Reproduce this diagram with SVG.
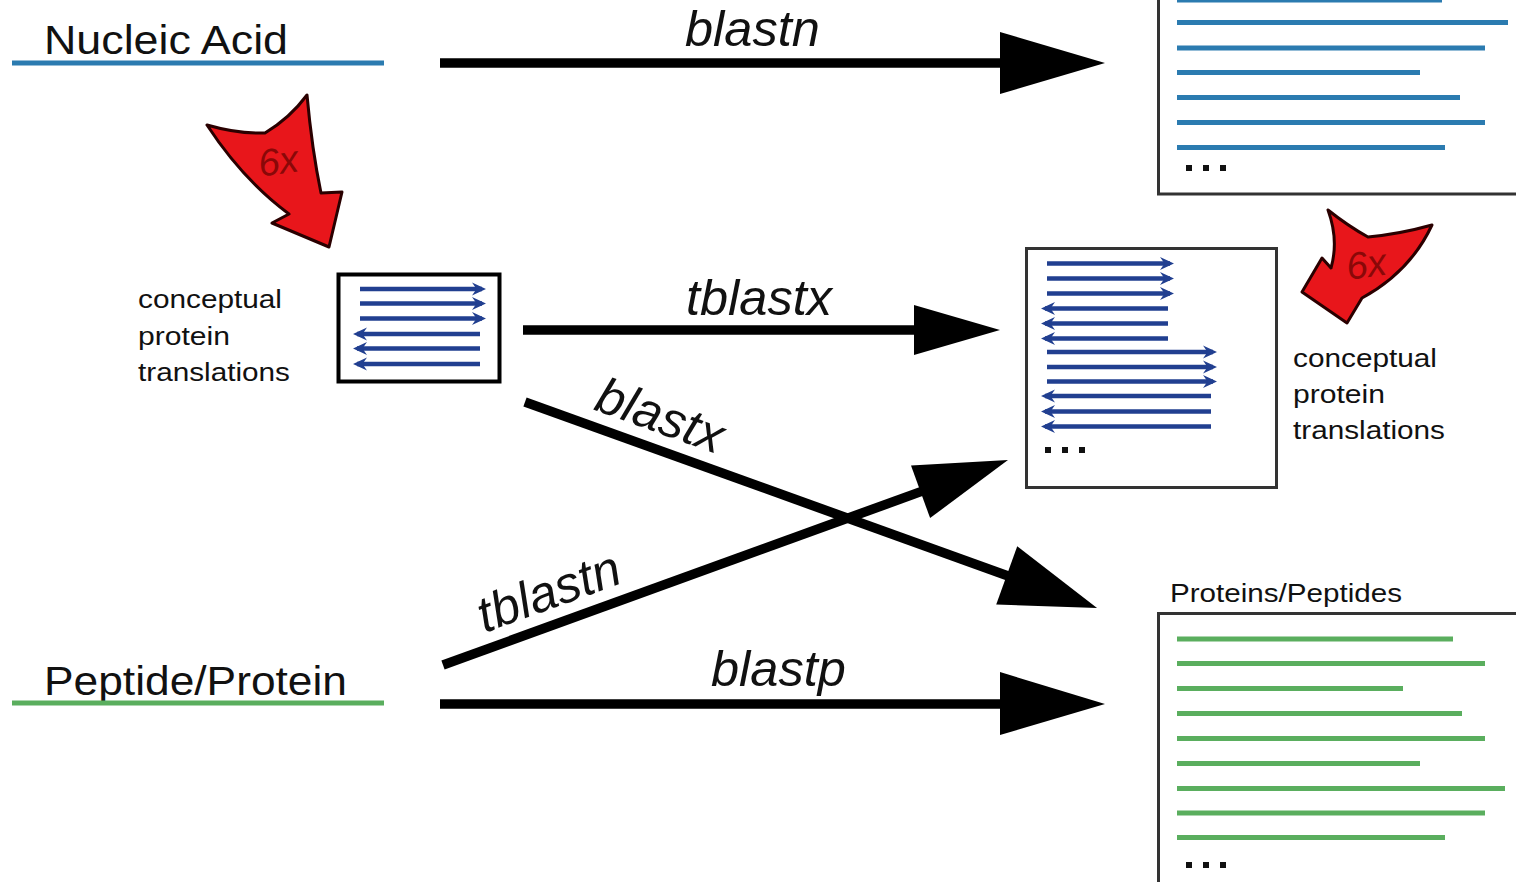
<svg xmlns="http://www.w3.org/2000/svg" width="1516" height="882" viewBox="0 0 1516 882">
  <style>
    .lbl { font-family: "Liberation Sans", Arial, sans-serif; fill: #111; }
    .big { font-size: 40px; }
    .prog { font-size: 50.5px; font-style: italic; }
    .small { font-size: 25px; }
    .six { font-family: "Liberation Sans", Arial, sans-serif; font-size: 38px; font-style: italic; fill: #8a0808; }
    .shaft { stroke: #000; stroke-width: 9.5; fill: none; }
    .head { fill: #000; }
    .frame { fill: #fff; stroke: #333; stroke-width: 3; }
    .nuc { stroke: #2b7bb0; stroke-width: 5; }
    .pep { stroke: #5aae5e; stroke-width: 5; }
    .frm { stroke: #213f90; stroke-width: 4.5; marker-end: url(#chev); }
    .dot { fill: #111; }
    .bent { fill: #e8161b; stroke: #2a0000; stroke-width: 3; stroke-linejoin: round; }
  </style>
  <defs>
    <marker id="chev" viewBox="0 0 14 14" refX="10" refY="7" markerWidth="14" markerHeight="14" markerUnits="userSpaceOnUse" orient="auto">
      <path d="M0,0.5 L14,7 L0,13.5 L4.5,7 Z" fill="#213f90"/>
    </marker>
  </defs>
  <rect width="1516" height="882" fill="#fff"/>

  <!-- source sequences -->
  <g id="nucleic-acid">
    <text class="lbl big" x="44" y="54" textLength="244" lengthAdjust="spacingAndGlyphs">Nucleic Acid</text>
    <line class="nuc" x1="12" y1="63" x2="384" y2="63"/>
  </g>
  <g id="peptide-protein">
    <text class="lbl big" x="44" y="695" textLength="303" lengthAdjust="spacingAndGlyphs">Peptide/Protein</text>
    <line class="pep" x1="12" y1="703" x2="384" y2="703"/>
  </g>

  <!-- six-frame translation of the query -->
  <g id="query-translate">
    <path class="bent" d="M207,125 Q238,134 265,133 Q290,118 307,95 Q312,150 321,193 L342,192 L329,247 L272,223 L289,214 Q243,180 207,125 Z"/>
    <text class="six" x="258" y="174" transform="rotate(-8 278 160)">6x</text>
  </g>
  <g id="query-frames">
    <text class="lbl small" x="138" y="308" textLength="144" lengthAdjust="spacingAndGlyphs">conceptual</text>
    <text class="lbl small" x="138" y="345" textLength="92" lengthAdjust="spacingAndGlyphs">protein</text>
    <text class="lbl small" x="138" y="381" textLength="152" lengthAdjust="spacingAndGlyphs">translations</text>
    <rect x="338.5" y="274.5" width="161" height="107" fill="#fff" stroke="#000" stroke-width="4"/>
    <line class="frm" x1="360" y1="289" x2="482" y2="289"/>
    <line class="frm" x1="360" y1="303.5" x2="482" y2="303.5"/>
    <line class="frm" x1="360" y1="318.5" x2="482" y2="318.5"/>
    <line class="frm" x1="480" y1="334" x2="357" y2="334"/>
    <line class="frm" x1="480" y1="348.5" x2="357" y2="348.5"/>
    <line class="frm" x1="480" y1="364" x2="357" y2="364"/>
  </g>

  <!-- nucleotide database -->
  <g id="nucleotide-db">
    <rect class="frame" x="1158.5" y="-10" width="400" height="204"/>
    <line class="nuc" x1="1177" y1="0" x2="1442" y2="0"/>
    <line class="nuc" x1="1177" y1="22.5" x2="1508" y2="22.5"/>
    <line class="nuc" x1="1177" y1="48" x2="1485" y2="48"/>
    <line class="nuc" x1="1177" y1="72.5" x2="1420" y2="72.5"/>
    <line class="nuc" x1="1177" y1="97.5" x2="1460" y2="97.5"/>
    <line class="nuc" x1="1177" y1="122.5" x2="1485" y2="122.5"/>
    <line class="nuc" x1="1177" y1="147.5" x2="1445" y2="147.5"/>
    <rect class="dot" x="1186" y="165" width="6" height="6"/>
    <rect class="dot" x="1203" y="165" width="6" height="6"/>
    <rect class="dot" x="1220" y="165" width="6" height="6"/>
  </g>

  <!-- six-frame translation of the database -->
  <g id="db-translate">
    <path class="bent" d="M1328,210 Q1348,226 1368,237 Q1400,234 1432,225 Q1410,272 1362,298 L1347,323 L1302,292 L1322,258 L1331,268 Q1339,240 1328,210 Z"/>
    <text class="six" x="1346" y="277" transform="rotate(-8 1368 263)">6x</text>
  </g>
  <g id="db-frames">
    <rect class="frame" x="1026.5" y="248.5" width="250" height="239" stroke="#555"/>
    <line class="frm" x1="1047" y1="263.5" x2="1170" y2="263.5"/>
    <line class="frm" x1="1047" y1="278.5" x2="1170" y2="278.5"/>
    <line class="frm" x1="1047" y1="293.5" x2="1170" y2="293.5"/>
    <line class="frm" x1="1168" y1="308.5" x2="1045" y2="308.5"/>
    <line class="frm" x1="1168" y1="323.5" x2="1045" y2="323.5"/>
    <line class="frm" x1="1168" y1="338.5" x2="1045" y2="338.5"/>
    <line class="frm" x1="1047" y1="352" x2="1213" y2="352"/>
    <line class="frm" x1="1047" y1="367" x2="1213" y2="367"/>
    <line class="frm" x1="1047" y1="381.5" x2="1213" y2="381.5"/>
    <line class="frm" x1="1211" y1="396" x2="1045" y2="396"/>
    <line class="frm" x1="1211" y1="411.5" x2="1045" y2="411.5"/>
    <line class="frm" x1="1211" y1="426.5" x2="1045" y2="426.5"/>
    <rect class="dot" x="1045" y="447" width="6" height="6"/>
    <rect class="dot" x="1062" y="447" width="6" height="6"/>
    <rect class="dot" x="1079" y="447" width="6" height="6"/>
    <text class="lbl small" x="1293" y="367" textLength="144" lengthAdjust="spacingAndGlyphs">conceptual</text>
    <text class="lbl small" x="1293" y="403" textLength="92" lengthAdjust="spacingAndGlyphs">protein</text>
    <text class="lbl small" x="1293" y="439" textLength="152" lengthAdjust="spacingAndGlyphs">translations</text>
  </g>

  <!-- protein database -->
  <g id="protein-db">
    <text class="lbl small" x="1170" y="602" textLength="232" lengthAdjust="spacingAndGlyphs">Proteins/Peptides</text>
    <rect class="frame" x="1158.5" y="613.5" width="400" height="300"/>
    <line class="pep" x1="1177" y1="639" x2="1453" y2="639"/>
    <line class="pep" x1="1177" y1="663.5" x2="1485" y2="663.5"/>
    <line class="pep" x1="1177" y1="688.5" x2="1403" y2="688.5"/>
    <line class="pep" x1="1177" y1="713.5" x2="1462" y2="713.5"/>
    <line class="pep" x1="1177" y1="738.5" x2="1485" y2="738.5"/>
    <line class="pep" x1="1177" y1="763.5" x2="1420" y2="763.5"/>
    <line class="pep" x1="1177" y1="788.5" x2="1505" y2="788.5"/>
    <line class="pep" x1="1177" y1="813" x2="1485" y2="813"/>
    <line class="pep" x1="1177" y1="837.5" x2="1445" y2="837.5"/>
    <rect class="dot" x="1186" y="862" width="6" height="6"/>
    <rect class="dot" x="1203" y="862" width="6" height="6"/>
    <rect class="dot" x="1220" y="862" width="6" height="6"/>
  </g>

  <!-- search programs -->
  <g id="connectors">
    <g id="blastn">
      <line class="shaft" x1="440" y1="63" x2="1004" y2="63"/>
      <polygon class="head" points="1000,32 1105,63 1000,94"/>
      <text class="lbl prog" x="685" y="46">blastn</text>
    </g>
    <g id="tblastx">
      <line class="shaft" x1="523" y1="330" x2="918" y2="330"/>
      <polygon class="head" points="914,305 1000,330 914,355"/>
      <text class="lbl prog" x="686" y="315">tblastx</text>
    </g>
    <g id="blastx" transform="translate(525,402) rotate(19.8)">
      <line class="shaft" x1="0" y1="0" x2="515" y2="0"/>
      <polygon class="head" points="512,-31 608,0 512,31"/>
      <text class="lbl prog" x="66" y="-16">blastx</text>
    </g>
    <g id="tblastn" transform="translate(443,665) rotate(-19.94)">
      <line class="shaft" x1="0" y1="0" x2="512" y2="0"/>
      <polygon class="head" points="508,-28 601,0 508,28"/>
      <text class="lbl prog" x="50" y="-16">tblastn</text>
    </g>
    <g id="blastp">
      <line class="shaft" x1="440" y1="704" x2="1004" y2="704"/>
      <polygon class="head" points="1000,672 1105,704 1000,735"/>
      <text class="lbl prog" x="711" y="686">blastp</text>
    </g>
  </g>
</svg>
